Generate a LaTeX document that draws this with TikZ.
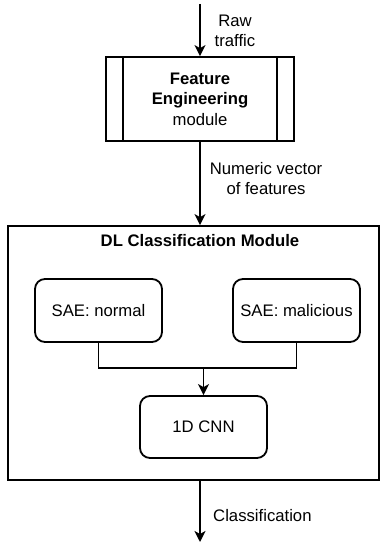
\documentclass[tikz,border=0pt]{standalone}
\usepackage{fontspec}
\setmainfont{Liberation Sans}
\usetikzlibrary{arrows.meta,calc}
\begin{document}
\begin{tikzpicture}[x=1bp,y=-1bp,
  every node/.style={font=\fontsize{16.7bp}{20.5bp}\selectfont},
  arr/.style={line width=1.8bp,-{Stealth[length=11bp,width=11bp,inset=3bp]}},
  boxsq/.style={draw,line width=1.8bp,minimum width=188bp,minimum height=84bp,inner sep=0pt,align=center},
  rbox/.style={draw,line width=1.8bp,rounded corners=10bp,minimum width=127bp,minimum height=63bp,inner sep=0pt,align=center},
  lbl/.style={align=center,inner sep=0pt}]
\useasboundingbox (0,0) rectangle (387,544);
\node[boxsq] (fe) at (200,99) {\textbf{Feature}\\\textbf{Engineering}\\module};
\draw[line width=1.8bp] ($(fe.north west)+(18,0)$) -- ($(fe.south west)+(18,0)$);
\draw[line width=1.8bp] ($(fe.north east)+(-18,0)$) -- ($(fe.south east)+(-18,0)$);
\node[draw,line width=1.8bp,minimum width=371bp,minimum height=254bp,inner sep=0pt] (dl) at (193.5,353) {};
\node[lbl] (dlt) at (200,241) {\textbf{DL Classification Module}};
\node[rbox] (sn) at (98.5,310.5) {SAE: normal};
\node[rbox] (ms) at (296.5,310.5) {SAE: malicious};
\node[rbox,minimum height=62bp] (cnn) at (203.5,427) {1D CNN};
\coordinate (top) at (200,4);
\coordinate (bot) at (200,542);
\coordinate (j) at (203.5,368);
\draw[arr] (top) -- (fe.north);
\draw[arr] (fe.south) -- (fe.south |- dl.north);
\draw[line width=1.8bp] (sn.south) |- (j) -| (ms.south);
\draw[arr] (j) -- (cnn.north);
\draw[arr] (fe.south |- dl.south) -- (bot);
\node[lbl] (raw) at (235,31) {Raw\\traffic};
\node[lbl] (nv) at (266,178.5) {Numeric vector\\of features};
\node[lbl,anchor=west] (cl) at (213,516) {Classification};
\end{tikzpicture}
\end{document}
